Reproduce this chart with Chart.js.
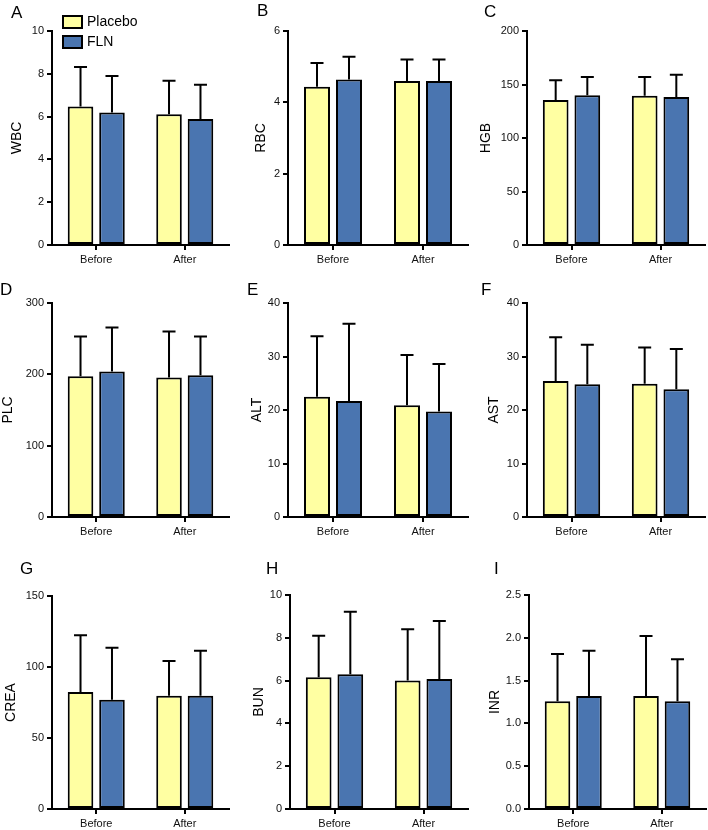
<!DOCTYPE html>
<html>
<head>
<meta charset="utf-8">
<script src="https://cdn.jsdelivr.net/npm/chart.js@4.4.0/dist/chart.umd.min.js"></script>
<style>
  body { margin: 0; background: #fff; }
  #page { position: relative; width: 708px; height: 830px; overflow: hidden; font-family: "Liberation Sans", Arial, sans-serif; }
  #page canvas { position: absolute; }
  .letter { position: absolute; font-size: 17px; line-height: 1; color: #000; }
</style>
</head>
<body>
<div id="page"></div>
<script>
// ---- data ----
const groups = ['Before', 'After'];
const seriesNames = ['Placebo', 'FLN'];
const panelLetters = ['A', 'B', 'C', 'D', 'E', 'F', 'G', 'H', 'I'];
const measures = ['WBC', 'RBC', 'HGB', 'PLC', 'ALT', 'AST', 'CREA', 'BUN', 'INR'];

const placeboMean = [[6.47, 6.11], [4.44, 4.60], [135.5, 139.6], [197.3, 195.5], [22.5, 20.9], [25.4, 24.9], [82.4, 79.8], [6.16, 6.00], [1.26, 1.32]];
const placeboSD   = [[1.85, 1.57], [0.66, 0.60], [18.5, 17.4], [55.7, 64.5], [11.3, 9.4], [8.2, 6.8], [40.0, 24.5], [1.94, 2.40], [0.55, 0.70]];
const flnMean     = [[6.19, 5.89], [4.64, 4.60], [140.0, 138.3], [204.0, 198.8], [21.7, 19.7], [24.8, 23.9], [77.0, 79.8], [6.30, 6.08], [1.32, 1.26]];
const flnSD       = [[1.71, 1.60], [0.64, 0.60], [17.0, 20.7], [61.6, 54.2], [14.4, 8.9], [7.4, 7.5], [36.5, 31.6], [2.92, 2.71], [0.53, 0.49]];

const yMax = [10, 6, 200, 300, 40, 40, 150, 10, 2.5];
const yStep = [2, 2, 50, 100, 10, 10, 50, 2, 0.5];
const yDecimals = [0, 0, 0, 0, 0, 0, 0, 0, 1];

// ---- layout ----
const colLeft = [0, 236, 472];
const rowTop = [0, 270, 550];
const rowHeight = [270, 280, 280];
const cellWidth = 236;
// plot area edges in page pixels
const axisX = [52, 288, 527, 52, 288, 527, 52, 290, 529];
const axisRight = [229, 468, 705, 229, 468, 705, 229, 468, 706];
const areaTop = [31, 31, 31, 303, 303, 303, 596, 595, 595];
const areaBottom = [245, 245, 245, 517, 517, 517, 809, 809, 809];
const titleCenter = [17, 25, 14, 8, 21, 22, 11, 23, 23];
const letterPos = [[11, 4], [257, 2], [484, 3], [0, 281], [247, 281], [481, 281], [20, 560], [266, 560], [494, 560]];

const placeboColor = '#FFFFA2';
const flnColor = '#4A75B0';

Chart.defaults.font.family = '"Liberation Sans", Arial, sans-serif';
Chart.defaults.color = '#111';

// upper-only error bars with a cap
const errorBars = {
    id: 'errorBars',
    afterDatasetsDraw(chart) {
        const ctx = chart.ctx;
        const y = chart.scales.y;
        ctx.save();
        ctx.strokeStyle = '#000';
        ctx.lineWidth = 2;
        chart.data.datasets.forEach((ds, di) => {
            chart.getDatasetMeta(di).data.forEach((bar, i) => {
                const top = y.getPixelForValue(ds.data[i] + ds.sd[i]);
                ctx.beginPath();
                ctx.moveTo(bar.x, bar.y);
                ctx.lineTo(bar.x, top);
                ctx.moveTo(bar.x - 6.5, top);
                ctx.lineTo(bar.x + 6.5, top);
                ctx.stroke();
            });
        });
        ctx.restore();
    }
};

// box legend (only panel A)
const boxLegend = {
    id: 'boxLegend',
    afterDraw(chart, args, opts) {
        if (!opts.show) return;
        const ctx = chart.ctx;
        ctx.save();
        ctx.font = '14px "Liberation Sans", Arial, sans-serif';
        ctx.textBaseline = 'middle';
        chart.data.datasets.forEach((ds, i) => {
            const bx = opts.x, by = opts.y[i];
            ctx.fillStyle = ds.backgroundColor;
            ctx.fillRect(bx, by, 21, 14);
            ctx.strokeStyle = '#000';
            ctx.lineWidth = 2;
            ctx.strokeRect(bx + 1, by + 1, 19, 12);
            ctx.fillStyle = '#000';
            ctx.fillText(ds.label, bx + 25, by + 7.5);
        });
        ctx.restore();
    }
};

const page = document.getElementById('page');

measures.forEach((name, p) => {
    const col = p % 3, row = Math.floor(p / 3);
    const left = colLeft[col], top = rowTop[row], h = rowHeight[row];

    const canvas = document.createElement('canvas');
    canvas.width = cellWidth;
    canvas.height = h;
    canvas.style.left = left + 'px';
    canvas.style.top = top + 'px';
    canvas.style.width = cellWidth + 'px';
    canvas.style.height = h + 'px';
    page.appendChild(canvas);

    const letter = document.createElement('div');
    letter.className = 'letter';
    letter.textContent = panelLetters[p];
    letter.style.left = letterPos[p][0] + 'px';
    letter.style.top = letterPos[p][1] + 'px';
    page.appendChild(letter);

    const plotLeft = axisX[p] - left;
    const plotRight = axisRight[p] - left;
    const plotTop = areaTop[p] - top;
    const plotBottom = areaBottom[p] - top;

    const tickGrid = { display: true, drawOnChartArea: false, drawTicks: true, tickLength: 5, color: '#000', lineWidth: 2, offset: false };
    const axisBorder = { display: true, color: '#000', width: 2 };

    new Chart(canvas, {
        type: 'bar',
        data: {
            labels: groups,
            datasets: [
                { label: seriesNames[0], data: placeboMean[p], sd: placeboSD[p], backgroundColor: placeboColor },
                { label: seriesNames[1], data: flnMean[p], sd: flnSD[p], backgroundColor: flnColor }
            ].map(ds => Object.assign(ds, {
                borderColor: '#000', borderWidth: 2, borderSkipped: false,
                categoryPercentage: 0.711, barPercentage: 0.8125
            }))
        },
        options: {
            responsive: false,
            devicePixelRatio: 1,
            animation: false,
            layout: { padding: { left: 0, top: plotTop, right: cellWidth - plotRight, bottom: 0 } },
            plugins: {
                legend: { display: false },
                tooltip: { enabled: false },
                boxLegend: { show: p === 0, x: 62, y: [15, 35] }
            },
            scales: {
                x: {
                    type: 'category',
                    offset: true,
                    grid: tickGrid,
                    border: axisBorder,
                    ticks: { color: '#111', font: { size: 11 }, padding: 3, maxRotation: 0 },
                    afterFit: s => { s.height = h - plotBottom; }
                },
                y: {
                    min: 0,
                    max: yMax[p],
                    grid: tickGrid,
                    border: axisBorder,
                    ticks: {
                        stepSize: yStep[p],
                        color: '#111',
                        font: { size: 11 },
                        padding: 3,
                        callback: v => v.toFixed(yDecimals[p])
                    },
                    title: {
                        display: true,
                        text: name,
                        color: '#000',
                        font: { size: 14 },
                        padding: { top: Math.max(0, titleCenter[p] - 8.4), bottom: 0 }
                    },
                    afterFit: s => { s.width = plotLeft; }
                }
            }
        },
        plugins: [errorBars, boxLegend]
    });
});
</script>
</body>
</html>
